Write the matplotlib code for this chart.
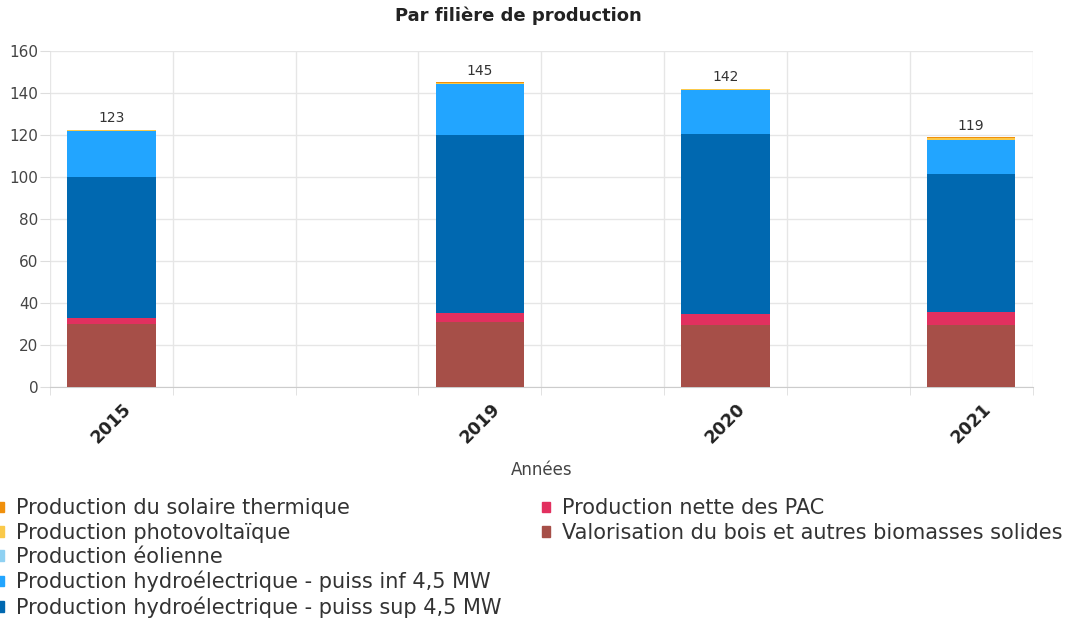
import numpy as np
import matplotlib.pyplot as plt
from matplotlib.patches import Patch

# Données (GWh)
annees = ["2015", "2019", "2020", "2021"]
bois = [29.9, 31.1, 29.5, 29.4]
pac = [3.1, 4.3, 5.4, 6.2]
hydro_sup = [67.0, 84.4, 85.5, 65.7]
hydro_inf = [21.8, 24.3, 20.9, 16.4]
eolien = [0.0, 0.05, 0.05, 0.05]
photovoltaique = [0.6, 0.7, 0.7, 0.8]
solaire_thermique = [0.2, 0.2, 0.1, 0.3]

series = [
    ("Valorisation du bois et autres biomasses solides", bois, "#a64f48"),
    ("Production nette des PAC", pac, "#e2305f"),
    ("Production hydroélectrique - puiss sup 4,5 MW", hydro_sup, "#0068b0"),
    ("Production hydroélectrique - puiss inf 4,5 MW", hydro_inf, "#22a5ff"),
    ("Production éolienne", eolien, "#8fd1f2"),
    ("Production photovoltaïque", photovoltaique, "#fac94a"),
    ("Production du solaire thermique", solaire_thermique, "#f0900c"),
]

plt.rcParams["font.family"] = ["DejaVu Sans"]

fig = plt.figure(figsize=(10.79, 6.23), dpi=100)
ax = fig.add_axes([0.0463, 0.3788, 0.9107, 0.5392])

# axe en catégories : 8 emplacements, les années présentes occupent 0, 3, 5, 7
x = np.array([0, 3, 5, 7])
bas = np.zeros(len(annees))
for nom, vals, couleur in series:
    ax.bar(x, vals, bottom=bas, width=0.72, color=couleur, edgecolor="none", zorder=3)
    bas += np.array(vals)

for xi, tot in zip(x, bas):
    ax.annotate(f"{tot:.0f}", (xi, tot), xytext=(0, 3), textcoords="offset points",
                ha="center", va="bottom", fontsize=10, color="#333333")

ax.set_xlim(-0.5, 7.5)
ax.set_ylim(0, 160)
ax.set_yticks(range(0, 161, 20))
ax.set_xticks(np.arange(-0.5, 7.6, 1), minor=True)
ax.set_xticks(x)
ax.set_xticklabels(annees, rotation=45, ha="center", va="top", fontsize=12.5,
                   fontweight="bold", color="#222222")
ax.tick_params(axis="x", which="major", length=0, pad=9.5)
ax.tick_params(axis="x", which="minor", length=6, color="#dddddd")
ax.tick_params(axis="y", length=7, color="#dddddd", labelsize=11, labelcolor="#444444", pad=1.5)
ax.grid(True, axis="y", color="#e6e6e6", linewidth=1, zorder=0)
ax.grid(True, axis="x", which="minor", color="#e6e6e6", linewidth=1, zorder=0)
for s in ["top", "right", "left"]:
    ax.spines[s].set_visible(False)
ax.spines["bottom"].set_color("#cccccc")

ax.set_xlabel("Années", fontsize=12, color="#444444", labelpad=10)
fig.text(0.48, 0.974, "Par filière de production", ha="center", va="center",
         fontsize=13, fontweight="bold", color="#222222")

# Légende en deux colonnes
gauche = [series[6], series[5], series[4], series[3], series[2]]
droite = [series[1], series[0]]
for groupe, xpos in [(gauche, -0.004), (droite, 0.502)]:
    poignees = [Patch(color=c, label=n) for n, v, c in groupe]
    leg = fig.legend(handles=poignees, loc="upper left", bbox_to_anchor=(xpos, 0.2),
                     frameon=False, fontsize=15, handlelength=0.42, handleheight=0.42,
                     handletextpad=0.55, labelspacing=0.2, borderaxespad=0, borderpad=0)
    for t in leg.get_texts():
        t.set_color("#333333")

fig.savefig("out.png", dpi=100)
